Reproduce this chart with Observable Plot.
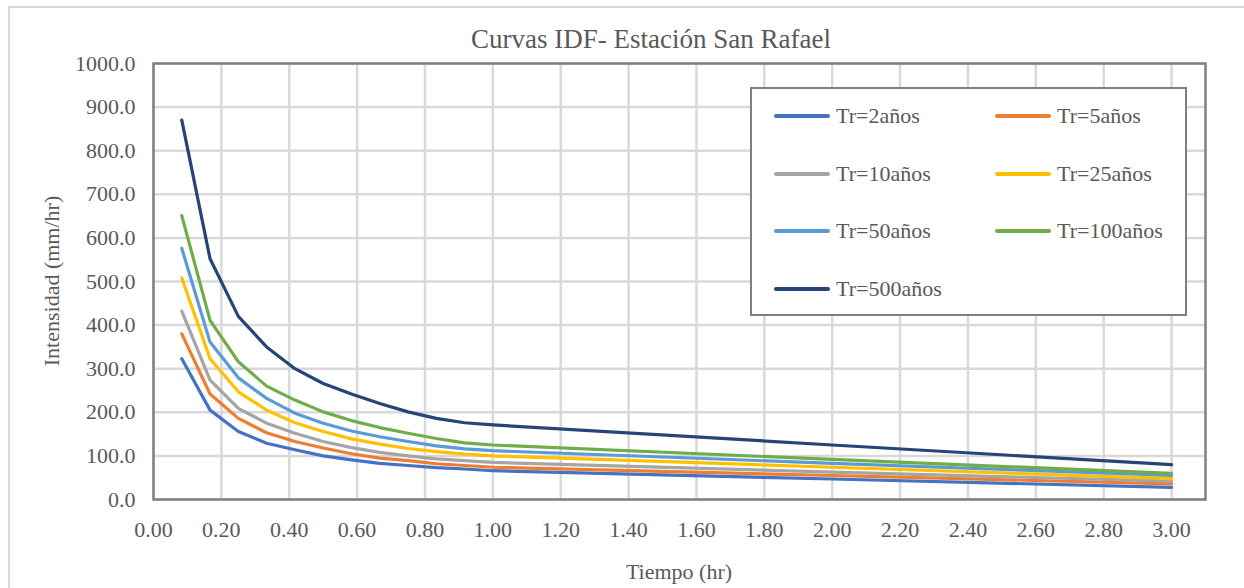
<!DOCTYPE html>
<html>
<head>
<meta charset="utf-8">
<script src="https://cdn.jsdelivr.net/npm/d3@7"></script>
<script src="https://cdn.jsdelivr.net/npm/@observablehq/plot@0.6"></script>
<style>
  html, body { margin: 0; padding: 0; background: #fff; overflow: hidden; }
  #wrap { position: relative; width: 1244px; height: 588px; overflow: hidden;
          font-family: "Liberation Serif", "Times New Roman", serif; color: #595959; }
  #border { position: absolute; left: 8px; top: 6px; width: 1300px; height: 700px;
            border-left: 2px solid #d9d9d9; border-top: 2px solid #d9d9d9; }
  #chart { position: absolute; left: 0; top: 0; }
  .title { position: absolute; left: 351px; width: 600px; top: 26px; text-align: center;
           font-size: 27px; line-height: 27px; white-space: nowrap; }
  .xlabel { position: absolute; left: 529px; width: 300px; top: 561px; text-align: center;
            font-size: 22px; line-height: 22px; white-space: nowrap; }
  .ylabel { position: absolute; left: -98px; width: 300px; top: 270px; text-align: center;
            font-size: 22px; line-height: 22px; white-space: nowrap; transform: rotate(-90deg); }
  #legend { position: absolute; left: 750px; top: 87px; width: 433px; height: 225px;
            border: 2px solid #7f7f7f; background: #fff; }
  .item { position: absolute; height: 22px; display: flex; align-items: center;
          font-size: 22px; line-height: 22px; white-space: nowrap; }
  .swatch { width: 56px; height: 3.5px; border-radius: 2px; margin-right: 6px; }
</style>
</head>
<body>
<div id="wrap">
  <div id="border"></div>
  <div id="chart"></div>
  <div class="title">Curvas IDF- Estación San Rafael</div>
  <div class="xlabel">Tiempo (hr)</div>
  <div class="ylabel">Intensidad (mm/hr)</div>
  <div id="legend"></div>
</div>
<script>
// Durations (minutes) of the IDF table
const durMin = [5, 10, 15, 20, 25, 30, 35, 40, 45, 50, 55, 60, 120, 180];

// Series names and colours
const seriesNames = ["Tr=2años", "Tr=5años", "Tr=10años", "Tr=25años", "Tr=50años", "Tr=100años", "Tr=500años"];
const seriesColors = ["#4472C4", "#ED7D31", "#A5A5A5", "#FFC000", "#5B9BD5", "#70AD47", "#264478"];

// Intensities (mm/hr)
const tr2   = [323, 205, 156, 129, 114, 100,  91,  83,  78,  73,  70,  66,  47, 28];
const tr5   = [380, 242, 186, 153, 133, 118, 105,  95,  89,  82,  78,  74,  55, 36];
const tr10  = [432, 274, 209, 175, 152, 133, 119, 108, 100,  93,  89,  85,  63, 42];
const tr25  = [508, 323, 247, 205, 176, 156, 139, 127, 117, 110, 104, 100,  74, 48];
const tr50  = [576, 361, 279, 232, 198, 175, 157, 144, 133, 123, 116, 112,  83, 55];
const tr100 = [651, 411, 316, 260, 228, 201, 181, 165, 152, 140, 130, 125,  92, 60];
const tr500 = [870, 552, 420, 350, 300, 266, 242, 220, 201, 186, 176, 171, 125, 80];

// Tick values
const xTicks = [0, 0.2, 0.4, 0.6, 0.8, 1.0, 1.2, 1.4, 1.6, 1.8, 2.0, 2.2, 2.4, 2.6, 2.8, 3.0];
const yTicks = [0, 100, 200, 300, 400, 500, 600, 700, 800, 900, 1000];

const allSeries = [tr2, tr5, tr10, tr25, tr50, tr100, tr500];
const data = [];
allSeries.forEach((vals, s) => {
  vals.forEach((v, i) => data.push({ t: durMin[i] / 60, v, name: seriesNames[s] }));
});

const chart = Plot.plot({
  width: 1244,
  height: 588,
  marginLeft: 153,
  marginRight: 39,
  marginTop: 63,
  marginBottom: 89,
  style: { fontFamily: "Liberation Serif, Times New Roman, serif", fontSize: "22px", color: "#595959", background: "transparent" },
  x: { domain: [0, 3.1] },
  y: { domain: [0, 1000] },
  color: { domain: seriesNames, range: seriesColors },
  marks: [
    Plot.gridX(xTicks, { stroke: "#d9d9d9", strokeWidth: 2.5, strokeOpacity: 1 }),
    Plot.gridY(yTicks, { stroke: "#d9d9d9", strokeWidth: 2.5, strokeOpacity: 1 }),
    Plot.frame({ stroke: "#808080", strokeWidth: 2.5 }),
    Plot.lineY(data, { x: "t", y: "v", z: "name", stroke: "name", strokeWidth: 3.2,
                       strokeLinejoin: "round", strokeLinecap: "round" }),
    Plot.axisX(xTicks, { tickSize: 0, tickPadding: 22, label: null, tickFormat: d => d.toFixed(2) }),
    Plot.axisY(yTicks, { tickSize: 0, tickPadding: 18, label: null, tickFormat: d => d.toFixed(1) })
  ]
});
document.getElementById("chart").appendChild(chart);

// Legend (two columns, four rows)
const legend = document.getElementById("legend");
const colX = [22, 243];
const rowY = [16, 74, 131, 189];
seriesNames.forEach((name, i) => {
  const item = document.createElement("div");
  item.className = "item";
  item.style.left = colX[i % 2] + "px";
  item.style.top = rowY[Math.floor(i / 2)] + "px";
  const sw = document.createElement("div");
  sw.className = "swatch";
  sw.style.background = seriesColors[i];
  const label = document.createElement("span");
  label.textContent = name;
  item.appendChild(sw);
  item.appendChild(label);
  legend.appendChild(item);
});
</script>
</body>
</html>
